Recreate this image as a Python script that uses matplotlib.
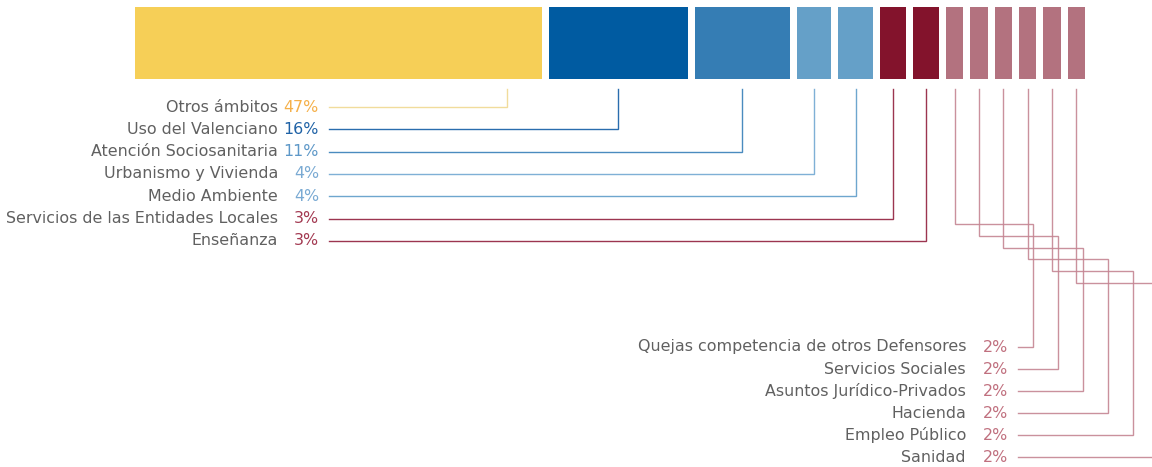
import matplotlib
matplotlib.use('Agg')
from matplotlib import pyplot as plt

# Datos: reparto de quejas por ámbito (%)
categorias = ['Otros ámbitos', 'Uso del Valenciano', 'Atención Sociosanitaria',
              'Urbanismo y Vivienda', 'Medio Ambiente',
              'Servicios de las Entidades Locales', 'Enseñanza',
              'Quejas competencia de otros Defensores', 'Servicios Sociales',
              'Asuntos Jurídico-Privados', 'Hacienda', 'Empleo Público', 'Sanidad']
porcentajes = [47, 16, 11, 4, 4, 3, 3, 2, 2, 2, 2, 2, 2]

colores_barra = ['#F6CF57', '#005BA1', '#357DB4', '#65A0C8', '#65A0C8',
                 '#83132C', '#83132C'] + ['#B3727F'] * 6
colores_texto = ['#F5B04A', '#1F62A6', '#5E98C8', '#7AAAD3', '#7AAAD3',
                 '#A33A52', '#A33A52'] + ['#C0707F'] * 6
colores_linea = ['#F1DC9C', '#2A6DAE', '#4A8BBF', '#7FB0D6', '#6EA6CE',
                 '#9C3550', '#9C3550'] + ['#C58593'] * 6

n_izq = 7  # etiquetas a la izquierda, el resto abajo a la derecha

W, H = 1152, 467
fig = plt.figure(figsize=(W / 100, H / 100), dpi=100)
ax = fig.add_axes([0, 0, 1, 1])
ax.set_xlim(0, W)
ax.set_ylim(H, 0)
ax.axis('off')

# barras
x0, x1, gap = 135, 1085, 7
escala = (x1 - x0 - gap * (len(porcentajes) - 1)) / sum(porcentajes)
lefts, widths = [], []
x = x0
for p in porcentajes:
    lefts.append(x)
    widths.append(p * escala)
    x += p * escala + gap
ax.bar(lefts, [72] * len(lefts), width=widths, bottom=7, align='edge',
       color=colores_barra, linewidth=0)

font = 'DejaVu Sans'
fs = 11.4
gris = '#606060'
y_top = 89

# grupo izquierdo
for i in range(n_izq):
    y = 107 + i * 22.3
    if widths[i] > 300:
        cx = lefts[i] + widths[i] - 35
    else:
        cx = lefts[i] + widths[i] / 2
    ax.text(278, y, categorias[i], ha='right', va='center', fontsize=fs,
            color=gris, family=font)
    ax.text(319, y, f'{porcentajes[i]}%', ha='right', va='center', fontsize=fs,
            color=colores_texto[i], family=font)
    ax.plot([329, cx, cx], [y, y, y_top], color=colores_linea[i], lw=1.0,
            solid_joinstyle='miter')

# grupo derecho, con codos
for k, i in enumerate(range(n_izq, len(categorias))):
    y = 347 + k * 22
    cx = lefts[i] + widths[i] / 2
    ey = 224 + k * 11.8
    ex = 1033 + k * 25
    ax.text(966, y, categorias[i], ha='right', va='center', fontsize=fs,
            color=gris, family=font)
    ax.text(1008, y, f'{porcentajes[i]}%', ha='right', va='center', fontsize=fs,
            color=colores_texto[i], family=font)
    ax.plot([1018, ex, ex, cx, cx], [y, y, ey, ey, y_top],
            color=colores_linea[i], lw=1.0, alpha=0.9, solid_joinstyle='miter')

fig.savefig('out.png', dpi=100)
